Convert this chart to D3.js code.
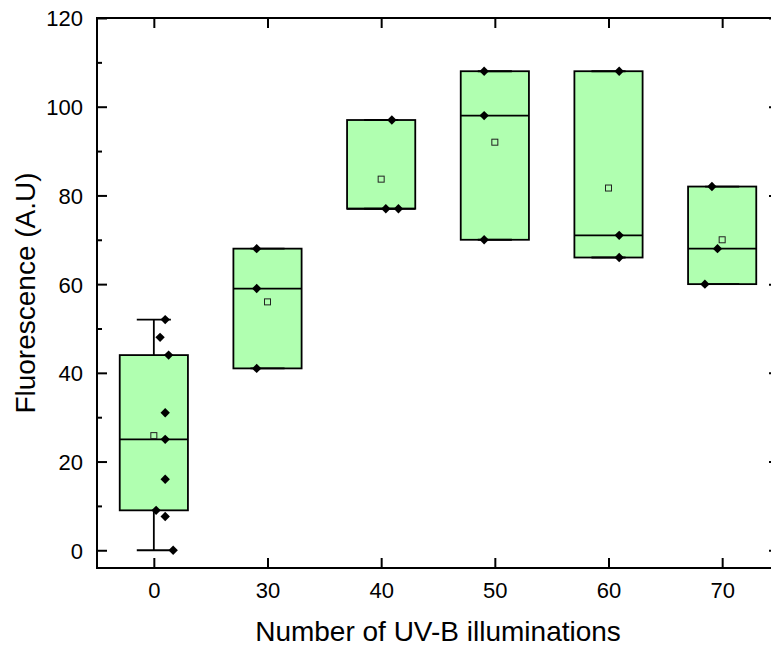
<!DOCTYPE html>
<html>
<head>
<meta charset="utf-8">
<script src="https://cdn.jsdelivr.net/npm/d3@7"></script>
<style>
	body { margin: 0; background: #fff; }
	svg { display: block; font-family: 'Liberation Sans', Arial, sans-serif; }
	.axis text { font-size: 22px; fill: #000; }
	.axis line { stroke: #000; stroke-width: 2; }
	.title { font-size: 28px; fill: #000; }
</style>
</head>
<body>
<svg id="chart"></svg>
<script>
// data
const CATEGORIES = ['0', '30', '40', '50', '60', '70'];
const POINTS = [
	[52, 48, 44, 31, 25, 16, 9, 7.6, 0],
	[68, 59, 41],
	[97, 77, 77],
	[108, 98, 70],
	[108, 71, 66],
	[82, 68, 60]
];
const Q1 = [9, 41, 77, 70, 66, 60];
const MEDIAN = [25, 59, 77, 98, 71, 68];
const Q3 = [44, 68, 97, 108, 108, 82];
const WHISKER_LOW = [0, 41, 77, 70, 66, 60];
const WHISKER_HIGH = [52, 68, 97, 108, 108, 82];
const Y_TICKS = [0, 20, 40, 60, 80, 100, 120];
const Y_MINOR = [10, 30, 50, 70, 90, 110];

// layout
const SVG_WIDTH = 771;
const SVG_HEIGHT = 646;
const FRAME = { left: 97, right: 779, top: 18, bottom: 568 };
const FILL = '#b0ffb0';
const LINE_W = 1.8;
// horizontal offset of each raw point, as a fraction of the category step
const POINT_OFFSET = [
	[0.1, 0.055, 0.13, 0.1, 0.1, 0.1, 0.02, 0.1, 0.17],
	[-0.095, -0.095, -0.095],
	[0.094, 0.041, 0.152],
	[-0.094, -0.094, -0.094],
	[0.094, 0.094, 0.094],
	[-0.09, -0.041, -0.152]
];

const x = d3.scalePoint()
	.domain(CATEGORIES)
	.range([FRAME.left, FRAME.right])
	.padding(0.5);
const y = d3.scaleLinear()
	.domain([-4, 120])
	.range([FRAME.bottom, FRAME.top]);

const step = x.step();
const boxW = step * 0.6;

const svg = d3.select('#chart')
	.attr('width', SVG_WIDTH)
	.attr('height', SVG_HEIGHT);

const boxes = CATEGORIES.map((c, i) => ({
	cat: c,
	q1: Q1[i],
	med: MEDIAN[i],
	q3: Q3[i],
	lo: WHISKER_LOW[i],
	hi: WHISKER_HIGH[i],
	mean: d3.mean(POINTS[i]),
	points: POINTS[i].map((v, j) => ({ v: v, off: POINT_OFFSET[i][j] }))
}));

const g = svg.selectAll('.box')
	.data(boxes)
	.enter()
	.append('g')
		.attr('class', 'box')
		.attr('transform', d => 'translate(' + x(d.cat) + ', 0)');

// whiskers
g.append('line')
	.attr('x1', 0).attr('x2', 0)
	.attr('y1', d => y(d.hi)).attr('y2', d => y(d.q3))
	.attr('stroke', '#000').attr('stroke-width', LINE_W);
g.append('line')
	.attr('x1', 0).attr('x2', 0)
	.attr('y1', d => y(d.q1)).attr('y2', d => y(d.lo))
	.attr('stroke', '#000').attr('stroke-width', LINE_W);

g.append('rect')
	.attr('x', -boxW / 2)
	.attr('width', boxW)
	.attr('y', d => y(d.q3))
	.attr('height', d => y(d.q1) - y(d.q3))
	.attr('fill', FILL)
	.attr('stroke', '#000')
	.attr('stroke-width', LINE_W);

g.append('line')
	.attr('x1', -boxW / 2).attr('x2', boxW / 2)
	.attr('y1', d => y(d.med)).attr('y2', d => y(d.med))
	.attr('stroke', '#000').attr('stroke-width', LINE_W);

// whisker caps
['hi', 'lo'].forEach(k => {
	g.append('line')
		.attr('x1', -boxW / 4).attr('x2', boxW / 4)
		.attr('y1', d => y(d[k])).attr('y2', d => y(d[k]))
		.attr('stroke', '#000').attr('stroke-width', LINE_W);
});

// mean
g.append('rect')
	.attr('x', -3)
	.attr('y', d => y(d.mean) - 3)
	.attr('width', 6)
	.attr('height', 6)
	.attr('fill', 'none')
	.attr('stroke', '#222')
	.attr('stroke-width', 1);

// raw points
const diamond = d3.symbol().type(d3.symbolSquare).size(44);
g.selectAll('.pt')
	.data(d => d.points)
	.enter()
	.append('path')
		.attr('class', 'pt')
		.attr('d', diamond)
		.attr('fill', '#000')
		.attr('transform', d => 'translate(' + (d.off * step) + ', ' + y(d.v) + ') rotate(45)');

// Axes
svg.append('g')
	.attr('class', 'axis')
	.attr('transform', 'translate(' + FRAME.left + ', 0)')
	.call(d3.axisLeft(y).tickValues(Y_TICKS).tickSize(-10).tickSizeOuter(0).tickPadding(14))
	.call(a => a.select('.domain').remove())
	.call(a => a.selectAll('text').attr('dy', '0.36em'));
svg.append('g')
	.attr('class', 'axis')
	.attr('transform', 'translate(' + FRAME.left + ', 0)')
	.call(d3.axisLeft(y).tickValues(Y_MINOR).tickSize(-5).tickSizeOuter(0).tickFormat(''))
	.call(a => a.select('.domain').remove());

svg.append('g')
	.attr('class', 'axis')
	.attr('transform', 'translate(' + FRAME.right + ', 0)')
	.call(d3.axisRight(y).tickValues(Y_TICKS).tickSize(-10).tickSizeOuter(0).tickFormat(''))
	.call(a => a.select('.domain').remove());
svg.append('g')
	.attr('class', 'axis')
	.attr('transform', 'translate(' + FRAME.right + ', 0)')
	.call(d3.axisRight(y).tickValues(Y_MINOR).tickSize(-5).tickSizeOuter(0).tickFormat(''))
	.call(a => a.select('.domain').remove());

svg.append('g')
	.attr('class', 'axis')
	.attr('transform', 'translate(0, ' + FRAME.bottom + ')')
	.call(d3.axisBottom(x).tickSize(-10).tickSizeOuter(0).tickPadding(14))
	.call(a => a.select('.domain').remove());
svg.append('g')
	.attr('class', 'axis')
	.attr('transform', 'translate(0, ' + FRAME.top + ')')
	.call(d3.axisTop(x).tickSize(-10).tickSizeOuter(0).tickFormat(''))
	.call(a => a.select('.domain').remove());

svg.append('rect')
	.attr('x', FRAME.left)
	.attr('y', FRAME.top)
	.attr('width', FRAME.right - FRAME.left)
	.attr('height', FRAME.bottom - FRAME.top)
	.attr('fill', 'none')
	.attr('stroke', '#000')
	.attr('stroke-width', 2);

// Titles
svg.append('text')
	.attr('class', 'title')
	.attr('text-anchor', 'middle')
	.attr('transform', 'translate(' + ((FRAME.left + FRAME.right) / 2) + ', ' + 641 + ')')
	.text('Number of UV-B illuminations');

svg.append('text')
	.attr('class', 'title')
	.attr('text-anchor', 'middle')
	.attr('transform', 'translate(35, ' + ((FRAME.top + FRAME.bottom) / 2) + ') rotate(-90)')
	.text('Fluorescence (A.U)');
</script>
</body>
</html>
